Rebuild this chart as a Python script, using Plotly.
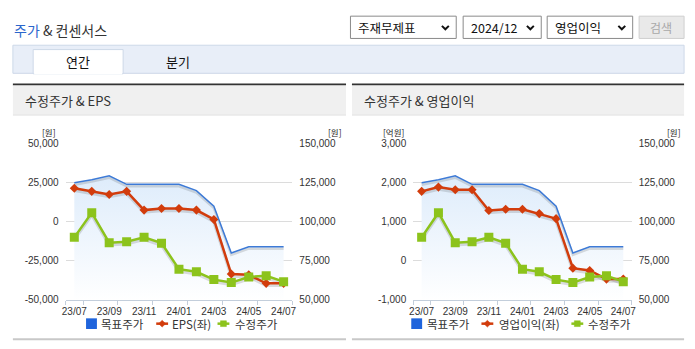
import plotly.graph_objects as go

# ---- data ---------------------------------------------------------------
months = ["23/07", "23/08", "23/09", "23/10", "23/11", "23/12", "24/01",
          "24/02", "24/03", "24/04", "24/05", "24/06", "24/07"]
tick_months = ["23/07", "23/09", "23/11", "24/01", "24/03", "24/05", "24/07"]

target_price = [125000, 127000, 129500, 124000, 124000, 124000, 124000,
                120000, 110000, 80000, 84000, 84000, 84000]          # 목표주가 (원)
adj_price = [90000, 105800, 86600, 87200, 90000, 86300, 69600,
             67900, 62900, 61000, 64600, 65400, 61600]               # 수정주가 (원)
eps = [21500, 19500, 17500, 19500, 7500, 8500, 8500,
       7500, 1500, -33500, -34000, -39500, -39500]                   # EPS (원)
op_profit = [1780, 1890, 1820, 1820, 1290, 1320, 1320,
             1210, 1080, -190, -250, -470, -470]                     # 영업이익 (억원)

eps_range = [-50000, 50000]
eps_ticks = [-50000, -25000, 0, 25000, 50000]
eps_ticktext = ["-50,000", "-25,000", "0", "25,000", "50,000"]
op_range = [-1000, 3000]
op_ticks = [-1000, 0, 1000, 2000, 3000]
op_ticktext = ["-1,000", "0", "1,000", "2,000", "3,000"]
price_range = [50000, 150000]
price_ticks = [50000, 75000, 100000, 125000, 150000]
price_ticktext = ["50,000", "75,000", "100,000", "125,000", "150,000"]

# ---- style --------------------------------------------------------------
W, H = 695, 349
KR = "Noto Sans CJK KR"
NUM = "Liberation Sans Narrow, Liberation Sans, Arial"
BLUE = "#3d7ad6"
BLUE_KEY = "#1f64dc"
RED = "#d23c0c"
GREEN = "#8cc31c"
GRID = "#dcdcdc"
AXIS = "#c3cedb"
TXT = "#333333"
SHADOW = "rgba(0,0,0,0.13)"

PLOT_TOP, PLOT_BOTTOM = 142.3, 303.3
SHADOW_PX = 2


def px(x):
    return x / W


def py(y):
    return 1 - y / H


def shifted(rng):
    # same scale, moved so lines drawn on it sit a couple of pixels lower
    d = SHADOW_PX * (rng[1] - rng[0]) / (PLOT_BOTTOM - PLOT_TOP)
    return [rng[0] + d, rng[1] + d]


idx = list(range(len(months)))
tick_idx = [months.index(m) for m in tick_months]
minor_idx = [-0.5] + [i + 0.5 for i in tick_idx]

fig = go.Figure()


def add_panel(xa, ax, left_vals, left_name):
    base, sh_price, sh_left, left, top = ax
    # target price area (bottom layer)
    fig.add_trace(go.Scatter(
        x=idx, y=target_price, xaxis=xa, yaxis=base, mode="lines",
        line=dict(color="rgba(0,0,0,0)", width=0), fill="tozeroy",
        fillgradient=dict(type="vertical", start=52000, stop=129500,
                          colorscale=[[0, "rgba(255,255,255,1)"],
                                      [1, "rgba(222,236,251,1)"]]),
        hoverinfo="skip", name="목표주가"))
    # soft shadows under the lines
    for vals, w in [(target_price, 2.5), (adj_price, 3.5)]:
        fig.add_trace(go.Scatter(
            x=idx, y=vals, xaxis=xa, yaxis=sh_price, mode="lines",
            line=dict(color=SHADOW, width=w), hoverinfo="skip"))
    fig.add_trace(go.Scatter(
        x=idx, y=left_vals, xaxis=xa, yaxis=sh_left, mode="lines",
        line=dict(color=SHADOW, width=3.5), hoverinfo="skip"))
    # left-axis series
    fig.add_trace(go.Scatter(
        x=idx, y=left_vals, xaxis=xa, yaxis=left, mode="lines+markers",
        line=dict(color=RED, width=2.5),
        marker=dict(symbol="diamond", size=7, color=RED),
        name=left_name))
    # target price line and adjusted price on top
    fig.add_trace(go.Scatter(
        x=idx, y=target_price, xaxis=xa, yaxis=top, mode="lines",
        line=dict(color=BLUE, width=1.5), name="목표주가"))
    fig.add_trace(go.Scatter(
        x=idx, y=adj_price, xaxis=xa, yaxis=top, mode="lines+markers",
        line=dict(color=GREEN, width=2.5),
        marker=dict(symbol="square", size=9, color=GREEN),
        name="수정주가"))


add_panel("x", ["y", "y2", "y3", "y4", "y5"], eps, "EPS(좌)")
add_panel("x2", ["y6", "y7", "y8", "y9", "y10"], op_profit, "영업이익(좌)")

ydom = [py(PLOT_BOTTOM), py(PLOT_TOP)]
tickfont = dict(family=NUM, size=10, color=TXT)
xcommon = dict(range=[-0.5, 12.5], tickmode="array", tickvals=tick_idx,
               ticktext=tick_months, ticks="", showgrid=False, zeroline=False,
               showline=True, linecolor=AXIS, linewidth=1,
               tickfont=tickfont, ticklabelstandoff=2,
               minor=dict(tickmode="array", tickvals=minor_idx, ticks="outside",
                          ticklen=4, tickcolor=AXIS, tickwidth=1, showgrid=False),
               fixedrange=True)
# price axis: base of each panel, on the right, carries the grid
yprice = dict(domain=ydom, side="right", range=price_range, tickmode="array",
              tickvals=price_ticks, ticktext=price_ticktext,
              showgrid=True, gridcolor=GRID, gridwidth=1, zeroline=False,
              showline=False, ticks="", tickfont=tickfont,
              ticklabelstandoff=6, fixedrange=True)
# value axis on the left
yleft = dict(side="left", showgrid=False, zeroline=False, showline=False,
             ticks="", tickfont=tickfont, ticklabelstandoff=6, fixedrange=True)


def hidden(rng, base):
    return dict(range=rng, visible=False, fixedrange=True, overlaying=base)


fig.update_layout(
    width=W, height=H, margin=dict(l=0, r=0, t=0, b=0),
    paper_bgcolor="white", plot_bgcolor="rgba(0,0,0,0)",
    font=dict(family=KR, color=TXT),
    showlegend=False,
    xaxis=dict(domain=[px(62.3), px(291.7)], anchor="y", **xcommon),
    xaxis2=dict(domain=[px(414), px(635)], anchor="y6", **xcommon),
    # left panel
    yaxis=dict(anchor="x", **yprice),
    yaxis2=dict(anchor="x", **hidden(shifted(price_range), "y")),
    yaxis3=dict(anchor="x", **hidden(shifted(eps_range), "y")),
    yaxis4=dict(anchor="x", overlaying="y", range=eps_range, tickmode="array",
                tickvals=eps_ticks, ticktext=eps_ticktext, **yleft),
    yaxis5=dict(anchor="x", **hidden(price_range, "y")),
    # right panel
    yaxis6=dict(anchor="x2", **yprice),
    yaxis7=dict(anchor="x2", **hidden(shifted(price_range), "y6")),
    yaxis8=dict(anchor="x2", **hidden(shifted(op_range), "y6")),
    yaxis9=dict(anchor="x2", overlaying="y6", range=op_range, tickmode="array",
                tickvals=op_ticks, ticktext=op_ticktext, **yleft),
    yaxis10=dict(anchor="x2", **hidden(price_range, "y6")),
)

shapes = []
ann = []


def rect(x0, y0, x1, y1, fill, line=None, lw=1, layer="below"):
    shapes.append(dict(type="rect", xref="paper", yref="paper",
                       x0=px(x0), x1=px(x1), y0=py(y1), y1=py(y0),
                       fillcolor=fill,
                       line=dict(color=line or fill, width=lw if line else 0),
                       layer=layer))


def text(x, y, s, size, color=TXT, anchor="left", family=KR):
    ann.append(dict(xref="paper", yref="paper", x=px(x), y=py(y), text=s,
                    showarrow=False, xanchor=anchor, yanchor="middle",
                    borderpad=0,
                    font=dict(family=family, size=size, color=color)))


def path(pts, color, width, fill=None, closed=False):
    d = "M " + " L ".join(f"{px(a)},{py(b)}" for a, b in pts)
    if closed:
        d += " Z"
    shapes.append(dict(type="path", xref="paper", yref="paper", path=d,
                       line=dict(color=color, width=width),
                       fillcolor=fill if fill else "rgba(0,0,0,0)"))


# ---- page header ------------------------------------------------------------
text(9, 25, "<span style='color:#2b66cc'>주가</span> &amp; 컨센서스", 14)

for x0, x1, label in [(350.5, 457.5, "주재무제표"), (464.5, 543.5, "2024/12"),
                      (549.5, 636, "영업이익")]:
    rect(x0, 10.5, x1, 33.5, "white", "#8a8a8a", 1)
    text(x0 + 7, 22.5, label, 12.5, "#111111")
    cx = x1 - 11
    path([(cx - 3.5, 20.5), (cx, 24), (cx + 3.5, 20.5)], "#111111", 2)
rect(642.5, 10.5, 688, 33.5, "#e9e9e9", "#cfcfcf", 1)
text(665, 22, "검색", 12, "#a8a8a8", "center")

# tabs
rect(9, 40.5, 688, 69.5, "#e8eef8", "#cdd8e8", 1)
rect(29.5, 45, 120.5, 70, "white", "#cdd8e8", 1)
rect(30.5, 69, 119.5, 70.5, "white")
text(75, 57, "연간", 13, "#111111", "center")
text(176, 57, "분기", 13, "#111111", "center")

# ---- panels -----------------------------------------------------------------
for x0, x1, title in [(9, 346, "수정주가 &amp; EPS"), (352, 688, "수정주가 &amp; 영업이익")]:
    rect(x0, 80, x1, 82, "#333333")
    rect(x0, 82, x1, 112, "#f0f0f0")
    rect(x0, 112, x1, 113, "#dddddd")
    rect(x0, 343, x1, 345, "#c8c8c8")
    text(x0 + 11, 97.5, title, 13, "#333333")

# axis units
text(46, 130, "[원]", 8.5, "#222222", "center")
text(335, 130, "[원]", 8.5, "#222222", "center")
text(394, 130, "[억원]", 8.5, "#222222", "center")
text(678, 130, "[원]", 8.5, "#222222", "center")


# ---- legends ----------------------------------------------------------------
def legend(bx, rx, gx, t1, t2, t3, left_name):
    yc = 328
    rect(bx, yc - 5.5, bx + 11, yc + 5.5, BLUE_KEY, layer="above")
    text(t1, yc, "목표주가", 11.5)
    path([(rx, yc), (rx + 12, yc)], RED, 2.5)
    c = rx + 6
    path([(c, yc - 3.5), (c + 3.5, yc), (c, yc + 3.5), (c - 3.5, yc)], RED, 0.5, RED, True)
    text(t2, yc, left_name, 11.5)
    path([(gx, yc), (gx + 12, yc)], GREEN, 2.5)
    c = gx + 6
    path([(c - 3, yc - 3), (c + 3, yc - 3), (c + 3, yc + 3), (c - 3, yc + 3)], GREEN, 0.5, GREEN, True)
    text(t3, yc, "수정주가", 11.5)


legend(83, 154, 216, 97.5, 168.5, 232.5, "EPS(좌)")
legend(412, 483, 574, 426.5, 499.5, 589.5, "영업이익(좌)")

fig.update_layout(shapes=shapes, annotations=ann)
fig.write_html("out.html")
